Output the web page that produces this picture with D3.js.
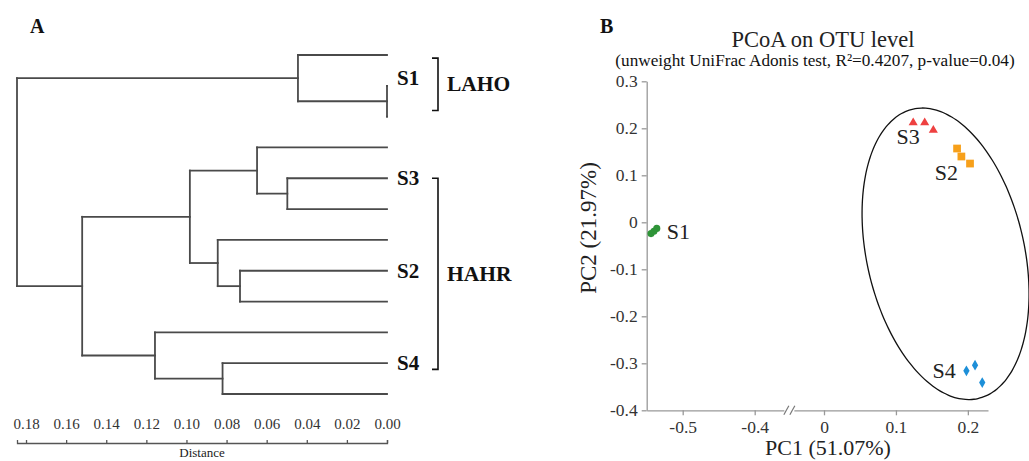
<!DOCTYPE html>
<html>
<head>
<meta charset="utf-8">
<script src="https://cdn.jsdelivr.net/npm/d3@7"></script>
<style>
  body { margin: 0; background: #fff; }
  svg { display: block; font-family: "Liberation Serif", "Times New Roman", serif; }
  svg text { font-family: "Liberation Serif", "Times New Roman", serif; }
</style>
</head>
<body>
<svg id="chart" width="1029" height="461"></svg>
<script>
// ---- Panel A data: UPGMA tree, merge heights (distance) ----
const mergeTree = {h: 0.1845, children: [
  {h: 0.0444, children: [{h: 0}, {h: 0, children: [{h: 0}, {h: 0}]}]},
  {h: 0.152, children: [
    {h: 0.0983, children: [
      {h: 0.0648, children: [{h: 0}, {h: 0.0497, children: [{h: 0}, {h: 0}]}]},
      {h: 0.0844, children: [{h: 0}, {h: 0.0733, children: [{h: 0}, {h: 0}]}]}
    ]},
    {h: 0.1157, children: [{h: 0}, {h: 0.082, children: [{h: 0}, {h: 0}]}]}
  ]}
]};
const sampleLabels = ["S1", "S3", "S2", "S4"];
const sampleLeafPos = [0.75, 4, 7, 10];          // leaf index where each label sits
const groupNames = ["LAHO", "HAHR"];
const groupFrom = [0.1, 4];                       // bracket ends, in leaf index units
const groupTo = [1.8, 10.2];
const distanceTicks = [0.18, 0.16, 0.14, 0.12, 0.10, 0.08, 0.06, 0.04, 0.02, 0.00];

// ---- Panel B data: PCoA coordinates ----
const s1Points = [[-0.544, -0.024], [-0.540, -0.019], [-0.536, -0.013]];
const s2Points = [[0.185, 0.157], [0.191, 0.140], [0.203, 0.125]];
const s3Points = [[0.124, 0.212], [0.140, 0.212], [0.152, 0.196]];
const s4Points = [[0.198, -0.316], [0.210, -0.304], [0.220, -0.341]];
const pointLabels = ["S1", "S3", "S2", "S4"];
const pointLabelX = [-0.522, 0.117, 0.170, 0.167];
const pointLabelY = [-0.020, 0.182, 0.105, -0.316];
const pc1Ticks = [-0.5, -0.4, 0, 0.1, 0.2];
const pc2Ticks = [0.3, 0.2, 0.1, 0, -0.1, -0.2, -0.3, -0.4];
// confidence ellipse: centre and two conjugate semi-axes, in data units
const ellipseCentre = [0.169, -0.067];
const ellipseAxisU = [0.045, -0.308];
const ellipseAxisV = [-0.107, -0.0366];

const serif = "'Liberation Serif', 'Times New Roman', serif";
const svg = d3.select("#chart");

// ================= Panel A =================
const treeColor = "#4a4a4a";
const xd = d3.scaleLinear().domain([0, 0.1845]).range([387, 17]);
const yLeaf = d3.scaleLinear().domain([0, 11]).range([55, 394]);

const root = d3.hierarchy(mergeTree);
root.leaves().forEach((leaf, i) => { leaf.yy = yLeaf(i); });
root.eachAfter(n => {
  if (n.children) n.yy = (n.children[0].yy + n.children[n.children.length - 1].yy) / 2;
});

const tree = svg.append("g");
root.each(n => {
  if (!n.children) return;
  const first = n.children[0], last = n.children[n.children.length - 1];
  tree.append("line")
    .attr("x1", xd(n.data.h)).attr("x2", xd(n.data.h))
    .attr("y1", first.yy).attr("y2", last.yy)
    .attr("stroke", treeColor).attr("stroke-width", 1.8).attr("stroke-linecap", "square");
  n.children.forEach(c => {
    tree.append("line")
      .attr("x1", xd(n.data.h)).attr("x2", xd(c.data.h))
      .attr("y1", c.yy).attr("y2", c.yy)
      .attr("stroke", treeColor).attr("stroke-width", 1.8).attr("stroke-linecap", "square");
  });
});

// sample labels
sampleLabels.forEach((s, i) => {
  svg.append("text")
    .attr("x", 397).attr("y", yLeaf(sampleLeafPos[i]) + 7)
    .attr("font-size", 21).attr("font-weight", "bold").attr("fill", "#111")
    .text(s);
});

// group brackets
groupNames.forEach((g, i) => {
  const y1 = yLeaf(groupFrom[i]), y2 = yLeaf(groupTo[i]);
  svg.append("path")
    .attr("d", `M432,${y1}H438V${y2}H432`)
    .attr("fill", "none").attr("stroke", "#111").attr("stroke-width", 1.6);
  svg.append("text")
    .attr("x", 447).attr("y", (y1 + y2) / 2 + 7)
    .attr("font-size", 21.5).attr("font-weight", "bold").attr("fill", "#111")
    .text(g);
});

// distance axis
const distAxis = svg.append("g")
  .attr("transform", "translate(0,443)")
  .call(d3.axisTop(xd).tickValues(distanceTicks).tickFormat(d3.format(".2f"))
    .tickSize(3).tickSizeOuter(3).tickPadding(11))
  .attr("font-family", null);
distAxis.select(".domain").attr("stroke", "#555").attr("stroke-width", 1.3);
distAxis.selectAll(".tick line").attr("stroke", "#555").attr("stroke-width", 1.3);
distAxis.selectAll("text").attr("font-size", 15).attr("fill", "#333")
  .style("font-family", serif);

svg.append("text")
  .attr("x", 202).attr("y", 457)
  .attr("text-anchor", "middle").attr("font-size", 13).attr("fill", "#222")
  .text("Distance");

svg.append("text")
  .attr("x", 30).attr("y", 33)
  .attr("font-size", 20).attr("font-weight", "bold").attr("fill", "#111")
  .text("A");

// ================= Panel B =================
const x = d3.scaleLinear().domain([-0.55, -0.4, 0, 0.228]).range([646.7, 754.7, 824, 988]);
const y = d3.scaleLinear().domain([-0.4, 0.3]).range([410.3, 81.3]);
const axisColor = "#999";

svg.append("text")
  .attr("x", 600).attr("y", 33)
  .attr("font-size", 20).attr("font-weight", "bold").attr("fill", "#111")
  .text("B");

svg.append("text")
  .attr("x", 823).attr("y", 47)
  .attr("text-anchor", "middle").attr("font-size", 22.5).attr("fill", "#222")
  .text("PCoA on OTU level");

svg.append("text")
  .attr("x", 815).attr("y", 66)
  .attr("text-anchor", "middle").attr("font-size", 17.2).attr("fill", "#111")
  .text("(unweight UniFrac Adonis test, R\u00B2=0.4207, p-value=0.04)");

const yAxis = svg.append("g")
  .attr("transform", `translate(${x(-0.55)},0)`)
  .call(d3.axisLeft(y).tickValues(pc2Ticks).tickFormat(d => String(d))
    .tickSize(5).tickSizeOuter(0).tickPadding(4));

const xAxis = svg.append("g")
  .attr("transform", `translate(0,${y(-0.4)})`)
  .call(d3.axisBottom(x).tickValues(pc1Ticks).tickFormat(d => String(d))
    .tickSize(5).tickSizeOuter(0).tickPadding(5));

[xAxis, yAxis].forEach(a => {
  a.attr("font-family", null);
  a.select(".domain").attr("stroke", axisColor).attr("stroke-width", 1.3);
  a.selectAll(".tick line").attr("stroke", axisColor).attr("stroke-width", 1.3);
  a.selectAll("text").attr("font-size", 17.5).attr("fill", "#333")
    .style("font-family", serif);
});

// axis break marks
const bx = x(-0.2), by = y(-0.4);
svg.append("rect")
  .attr("x", bx - 5).attr("y", by - 2).attr("width", 10).attr("height", 4)
  .attr("fill", "#fff");
[-3, 3].forEach(dx => {
  svg.append("line")
    .attr("x1", bx + dx - 2.5).attr("y1", by + 4.5)
    .attr("x2", bx + dx + 2.5).attr("y2", by - 4.5)
    .attr("stroke", "#777").attr("stroke-width", 1.2);
});

svg.append("text")
  .attr("x", 828).attr("y", 455)
  .attr("text-anchor", "middle").attr("font-size", 22).attr("fill", "#222")
  .text("PC1 (51.07%)");

svg.append("text")
  .attr("transform", "translate(596,228) rotate(-90)")
  .attr("text-anchor", "middle").attr("font-size", 23).attr("fill", "#222")
  .text("PC2 (21.97%)");

// ellipse
const ellipsePts = d3.range(0, 360, 3).map(deg => {
  const t = deg * Math.PI / 180;
  return [
    ellipseCentre[0] + ellipseAxisU[0] * Math.cos(t) + ellipseAxisV[0] * Math.sin(t),
    ellipseCentre[1] + ellipseAxisU[1] * Math.cos(t) + ellipseAxisV[1] * Math.sin(t)
  ];
});
svg.append("path")
  .attr("d", d3.line().x(d => x(d[0])).y(d => y(d[1])).curve(d3.curveCardinalClosed)(ellipsePts))
  .attr("fill", "none").attr("stroke", "#111").attr("stroke-width", 1.3);

// points
const groups = [
  {pts: s1Points, type: d3.symbolCircle, size: 40, color: "#2e9438"},
  {pts: s3Points, type: d3.symbolTriangle, size: 36, color: "#ee4040"},
  {pts: s2Points, type: d3.symbolSquare, size: 60, color: "#f7a01a"},
  {pts: s4Points, type: d3.symbolDiamond, size: 34, color: "#1d8fd8"}
];
groups.forEach(g => {
  svg.append("g").selectAll("path")
    .data(g.pts)
    .join("path")
    .attr("transform", d => `translate(${x(d[0])},${y(d[1])})`)
    .attr("d", d3.symbol().type(g.type).size(g.size))
    .attr("fill", g.color);
});

pointLabels.forEach((s, i) => {
  svg.append("text")
    .attr("x", x(pointLabelX[i])).attr("y", y(pointLabelY[i]) + 7.5)
    .attr("text-anchor", i === 0 ? "start" : "middle")
    .attr("font-size", 22).attr("fill", "#222")
    .text(s);
});
</script>
</body>
</html>
